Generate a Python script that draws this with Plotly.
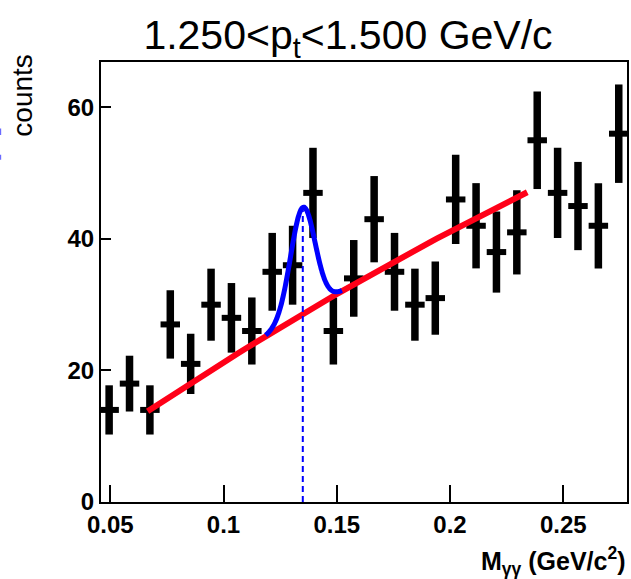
import numpy as np
import plotly.graph_objects as go

# --- histogram (26 bins, width 0.009) ---
mass_centers = [0.0495, 0.0585, 0.0675, 0.0765, 0.0855, 0.0945, 0.1035, 0.1125,
                0.1215, 0.1305, 0.1395, 0.1485, 0.1575, 0.1665, 0.1755, 0.1845,
                0.1935, 0.2025, 0.2115, 0.2205, 0.2295, 0.2385, 0.2475, 0.2565,
                0.2655, 0.2745]
counts = [14, 18, 14, 27, 21, 30, 28, 26, 35, 36, 47, 26, 34, 43, 35, 30,
          31, 46, 42, 38, 41, 55, 47, 45, 42, 56]
errors = np.sqrt(counts)

# --- fit curves ---
bg_x = [0.0665, 0.1186, 0.2341]   # pol2 background, fit range 0.0665-0.2341
bg_y = [13.8, 25.2, 47.1]
peak_mean = 0.135
peak_sigma = 0.0054
peak_amp = 16.2
peak_range = [0.1186, 0.1523]

bg_coef = np.polyfit(bg_x, bg_y, 2)
xb = np.linspace(bg_x[0], bg_x[-1], 60)
yb = np.polyval(bg_coef, xb)
xg = np.linspace(peak_range[0], peak_range[1], 120)
yg = np.polyval(bg_coef, xg) + peak_amp * np.exp(-0.5 * ((xg - peak_mean) / peak_sigma) ** 2)
peak_top = float(np.polyval(bg_coef, peak_mean) + peak_amp)

fig = go.Figure()

fig.add_trace(go.Scatter(
    x=mass_centers, y=counts, mode="markers",
    marker=dict(size=1, color="black"),
    error_y=dict(type="data", array=errors, color="black", thickness=7.5, width=0),
    error_x=dict(type="constant", value=0.0043, color="black", thickness=6, width=0),
))

fig.add_trace(go.Scatter(x=xb, y=yb, mode="lines",
                         line=dict(color="#ff0018", width=6)))
fig.add_trace(go.Scatter(x=xg, y=yg, mode="lines",
                         line=dict(color="#0000ff", width=5, shape="spline")))
fig.add_trace(go.Scatter(x=[peak_mean, peak_mean], y=[0, peak_top], mode="lines",
                         line=dict(color="#0000ff", width=2, dash="6px,4px")))

font = "Liberation Sans, Arial, Helvetica, sans-serif"

fig.update_layout(
    width=631, height=579,
    margin=dict(l=101, r=2, t=62, b=77),
    paper_bgcolor="white", plot_bgcolor="white",
    showlegend=False,
    font=dict(family=font, color="black"),
    title=dict(text="1.250&lt;p<sub>t</sub>&lt;1.500 GeV/c",
               x=0.5515, xanchor="center", y=1 - 35 / 579, yanchor="middle",
               font=dict(size=41, family=font, color="black")),
)

fig.update_xaxes(range=[0.04591, 0.27814], tickvals=[0.05, 0.1, 0.15, 0.2, 0.25],
                 ticktext=["0.05", "0.1", "0.15", "0.2", "0.25"],
                 ticks="inside", ticklen=17, tickwidth=2, tickcolor="black",
                 showline=True, linewidth=2, linecolor="black", mirror=True,
                 showgrid=False, zeroline=False,
                 tickfont=dict(size=24, weight="bold", family=font))
fig.update_yaxes(range=[0, 66.9], tickvals=[0, 20, 40, 60],
                 ticks="inside", ticklen=10, tickwidth=2, tickcolor="black",
                 showline=True, linewidth=2, linecolor="black", mirror=True,
                 showgrid=False, zeroline=False,
                 tickfont=dict(size=24, weight="bold", family=font))

fig.add_annotation(text="counts", textangle=-90, xref="paper", yref="paper",
                   x=-0.149, y=0.925, xanchor="center", yanchor="middle",
                   showarrow=False, font=dict(size=28, family=font))
fig.add_annotation(text="M<sub>γγ</sub> (GeV/c<sup>2</sup>)", xref="paper", yref="paper",
                   x=1.002, y=-0.133, xanchor="right", yanchor="middle",
                   showarrow=False, font=dict(size=25, weight="bold", family=font))

# bits of the neighbouring panel cut at the left edge
for y0, y1 in [(0.834, 0.849), (0.778, 0.789)]:
    fig.add_shape(type="line", xref="paper", yref="paper", x0=-0.1912, x1=-0.1912,
                  y0=y0, y1=y1, line=dict(color="#6a6aff", width=1.5))

fig.write_html("out.html", config={"displayModeBar": False},
               post_script="document.body.style.margin='0';")
